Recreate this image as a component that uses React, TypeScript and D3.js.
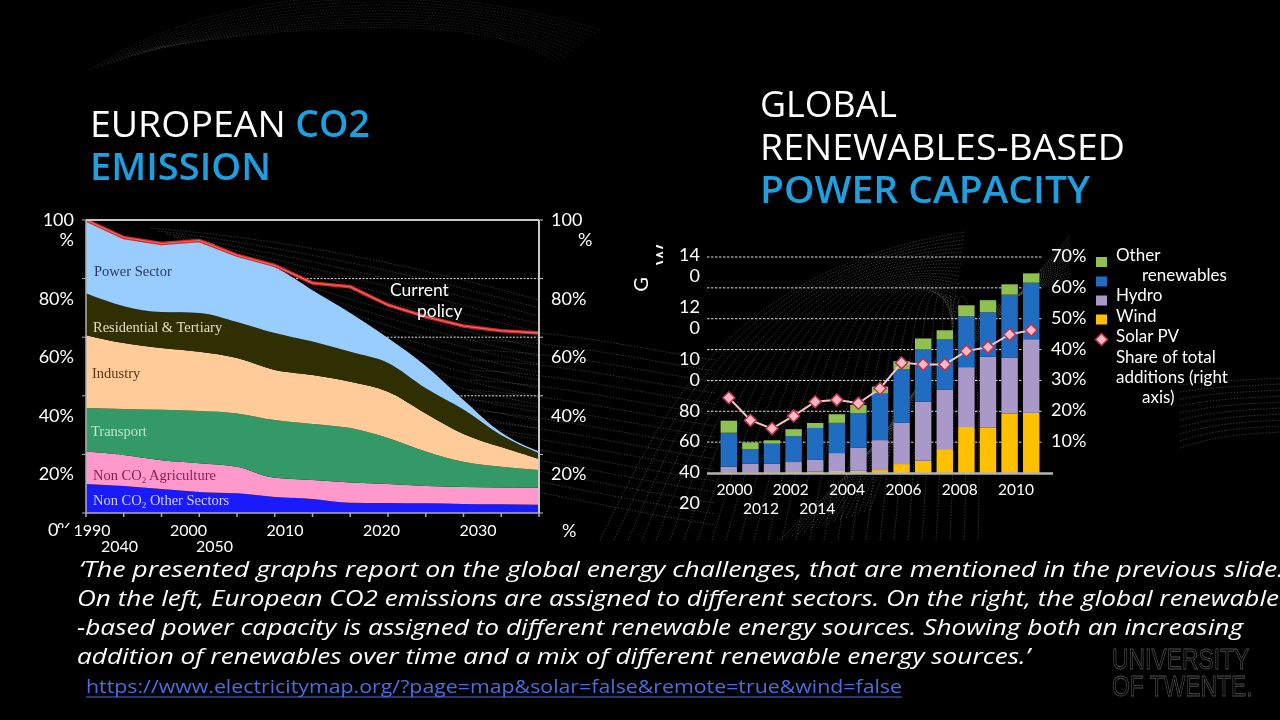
import * as d3 from 'd3';

// ---- left chart: European CO2 emission shares (% of 1990) ----
const sectorYears = [1990, 1995, 2000, 2005, 2010, 2015, 2020, 2025, 2030, 2035, 2040, 2045, 2050];
const powerSector = [25, 23.4, 23.4, 24.7, 22.8, 22.6, 17.5, 13.3, 8.5, 7.6, 3.3, 1.0, 0.6];
const residential = [14.3, 12.6, 12.3, 13.3, 12.3, 12.6, 11.4, 10.2, 9.8, 8.6, 8.3, 4.0, 2.0];
const industry = [24.9, 22.5, 21.1, 20.2, 18.9, 17.1, 16.7, 15.8, 15.8, 13.0, 9.5, 6.7, 3.7];
const transport = [14.8, 15.7, 17.2, 17.8, 18.2, 19.7, 19.1, 18.6, 15.7, 11.8, 8.6, 7.1, 6.1];
const agriculture = [11.1, 10.6, 9.8, 9.8, 9.1, 6.5, 6.5, 6.9, 6.5, 5.9, 5.8, 5.7, 5.8];
const otherSectors = [9.9, 9.2, 8.2, 7.2, 6.7, 5.5, 4.8, 3.5, 3.4, 3.3, 3.1, 3.0, 2.8];
const currentPolicy = [100, 94, 92, 93, 88, 84.5, 78.5, 77.2, 71, 67, 63.8, 62.2, 61.4];
const pctTicks = [100, 80, 60, 40, 20];
const yearLabels = ['1990', '2000', '2010', '2020', '2030', '2040', '2050'];

// ---- right chart: renewables-based capacity additions (GW) ----
const capYears = ['2000', '2001', '2002', '2003', '2004', '2005', '2006', '2007', '2008', '2009', '2010', '2011', '2012', '2013', '2014'];
const solarPV = [0.4, 0.4, 0.5, 0.6, 0.9, 1.3, 1.4, 1.9, 5.8, 8.0, 15.5, 29.8, 29.3, 38.4, 39.0];
const wind = [3.7, 5.6, 5.6, 6.5, 7.8, 11.6, 15.1, 19.4, 26.8, 38.2, 38.4, 38.8, 46.0, 36.2, 47.7];
const hydro = [22.0, 9.5, 12.9, 16.8, 20.5, 19.6, 22.2, 30.2, 34.7, 34.1, 32.8, 33.0, 28.9, 41.0, 36.7];
const otherRenewables = [7.8, 4.3, 2.2, 4.5, 3.2, 5.6, 5.4, 4.5, 5.2, 6.9, 5.8, 7.1, 7.8, 6.7, 6.0];
const shareOfAdditions = [24.4, 17.1, 14.4, 18.5, 23.1, 23.7, 22.6, 27.4, 35.7, 35.2, 35.2, 39.5, 40.8, 44.9, 46.3];
const gwTicks = [140, 120, 100, 80, 60, 40, 20];
const shareTicks = [70, 60, 50, 40, 30, 20, 10];
const capYearLabels = ['2000', '2002', '2004', '2006', '2008', '2010', '2012', '2014'];

const sans = 'Lato, "Open Sans", sans-serif';
const serif = '"Liberation Serif", "DejaVu Serif", serif';
const titleFont = '"Open Sans", sans-serif';

export default function App() {
  // left chart scales
  const xL = d3.scaleLinear().domain([1990, 2050]).range([86, 539]);
  const yL = d3.scaleLinear().domain([0, 100]).range([513, 220]);

  const rows = sectorYears.map((year, i) => ({
    year,
    other: otherSectors[i],
    agri: agriculture[i],
    transport: transport[i],
    industry: industry[i],
    residential: residential[i],
    power: powerSector[i],
  }));
  const sectorKeys = ['other', 'agri', 'transport', 'industry', 'residential', 'power'];
  const sectorColors = {
    other: '#1a1aff',
    agri: '#ff99cc',
    transport: '#339966',
    industry: '#ffcc99',
    residential: '#2f2f02',
    power: '#99ccff',
  };
  const sectorStack = d3.stack().keys(sectorKeys)(rows);
  const sectorArea = d3.area()
    .x((d) => xL(d.data.year))
    .y0((d) => yL(d[0]))
    .y1((d) => yL(d[1]))
    .curve(d3.curveMonotoneX);
  const policyPath = d3.line()
    .x((d, i) => xL(sectorYears[i]))
    .y((d) => yL(d))(currentPolicy);

  // right chart scales
  const xB = d3.scaleBand().domain(capYears).range([718, 1042]).paddingInner(0.24).paddingOuter(0.12);
  const yGW = d3.scaleLinear().domain([0, 140]).range([473, 257]);
  const yPct = d3.scaleLinear().domain([0, 70]).range([473, 257]);
  const capRows = capYears.map((year, i) => ({
    year,
    solar: solarPV[i],
    wind: wind[i],
    hydro: hydro[i],
    other: otherRenewables[i],
  }));
  const capKeys = ['solar', 'wind', 'hydro', 'other'];
  const capColors = { solar: '#ffc000', wind: '#a899c8', hydro: '#1f6cc0', other: '#90c150' };
  const capStack = d3.stack().keys(capKeys)(capRows);
  const shareLine = d3.line()
    .x((d, i) => xB(capYears[i]) + xB.bandwidth() / 2)
    .y((d) => yPct(d))(shareOfAdditions);

  // GW labels wrap in the original text box: 3-digit labels break into two lines
  let gwOffset = 4;
  const gwLabelLines = [];
  gwTicks.forEach((v) => {
    const base = yGW(v) + gwOffset;
    const s = String(v);
    if (s.length > 2) {
      gwLabelLines.push({ t: s.slice(0, 2), y: base });
      gwLabelLines.push({ t: s.slice(2), y: base + 21 });
      gwOffset += 21;
    } else {
      gwLabelLines.push({ t: s, y: base });
    }
  });

  // faint decorative background strokes (slide theme)
  const bgTop = d3.range(12).map((i) => `M${90 + i * 6},${70 - i * 2} C${220 + i * 10},${-15 + i * 3} ${420 + i * 8},${-25 + i * 4} ${600 - i * 4},${30 + i * 3}`);
  const bgRight = d3.range(28).map((i) => `M${600 + i * 14},${540} C${660 + i * 12},${420 - i * 3} ${720 + i * 9},${270 - i * 1.5} ${965 - i * 0.5},${232 + i * 4}`);
  const bgRight2 = d3.range(16).map((i) => `M${780 + i * 6},${540 - i * 2} C${850 + i * 4},${470 - i * 5} ${930},${400 - i * 6} ${1070},${235 + i * 3}`);
  const bgMid = d3.range(16).map((i) => `M${470},${330 + i * 10} C${560},${330 + i * 11} ${620},${345 + i * 11} ${715},${360 + i * 11}`);
  const bgLeft = d3.range(18).map((i) => `M${150 + i * 8},${228 + i * 3} C${300},${240 + i * 8} ${430},${270 + i * 9} ${539},${300 + i * 8}`);
  const bgFar = d3.range(10).map((i) => `M${1180},${385 + i * 7} C${1220},${380 + i * 6} ${1250},${380 + i * 6} ${1280},${378 + i * 6}`);

  const legendItems = [
    { key: 'other', y: 262 },
    { key: 'hydro', y: 281.5 },
    { key: 'wind', y: 300.5 },
    { key: 'solar', y: 319.5 },
  ];
  const legendText = [
    { t: 'Other', x: 1116, y: 261 },
    { t: 'renewables', x: 1142, y: 281 },
    { t: 'Hydro', x: 1116, y: 301 },
    { t: 'Wind', x: 1116, y: 322 },
    { t: 'Solar PV', x: 1116, y: 342 },
    { t: 'Share of total', x: 1116, y: 363 },
    { t: 'additions (right', x: 1116, y: 383 },
    { t: 'axis)', x: 1142, y: 403 },
  ];

  const diamond = 'M0,-6L6,0L0,6L-6,0Z';

  return (
    <svg width={1280} height={720} style={{ position: 'absolute', left: 0, top: 0, background: '#000' }}>
      <defs>
        <clipPath id="clipW"><rect x={600} y={230} width={63} height={60} /></clipPath>
        <clipPath id="clipPct"><rect x={55} y={500} width={20} height={28} /></clipPath>
      </defs>
      <rect width={1280} height={720} fill="#000" />

      {/* background texture */}
      <g fill="none" stroke="#8a8a8a" strokeWidth={0.7} strokeDasharray="1.5,1.5" opacity={0.55}>
        <g opacity={0.6}>{bgTop.map((p, i) => <path key={'t' + i} d={p} />)}</g>
        {bgRight.map((p, i) => <path key={'r' + i} d={p} />)}
        {bgRight2.map((p, i) => <path key={'r2' + i} d={p} />)}
        {bgMid.map((p, i) => <path key={'m' + i} d={p} />)}
        {bgLeft.map((p, i) => <path key={'l' + i} d={p} />)}
        {bgFar.map((p, i) => <path key={'f' + i} d={p} />)}
      </g>

      {/* titles */}
      <text x={90} y={137} fontFamily={titleFont} fontSize={37} fill="#fff" textLength={280} lengthAdjust="spacingAndGlyphs">
        EUROPEAN <tspan fill="#1e9fe0" fontWeight={600}>CO2</tspan>
      </text>
      <text x={90} y={180} fontFamily={titleFont} fontSize={37} fontWeight={600} fill="#1e9fe0" textLength={181} lengthAdjust="spacingAndGlyphs">EMISSION</text>
      <text x={760} y={117} fontFamily={titleFont} fontSize={37} fill="#fff" textLength={137} lengthAdjust="spacingAndGlyphs">GLOBAL</text>
      <text x={760} y={160} fontFamily={titleFont} fontSize={37} fill="#fff" textLength={365} lengthAdjust="spacingAndGlyphs">RENEWABLES-BASED</text>
      <text x={760} y={203} fontFamily={titleFont} fontSize={37} fontWeight={600} fill="#1e9fe0" textLength={330} lengthAdjust="spacingAndGlyphs">POWER CAPACITY</text>

      {/* ---------- left chart ---------- */}
      <g>
        {pctTicks.filter((v) => v < 100).map((v) => (
          <line key={v} x1={86} x2={539} y1={yL(v)} y2={yL(v)} stroke="#d8d8d8" strokeDasharray="2,1.5" strokeWidth={1} />
        ))}
        {sectorStack.map((s) => (
          <path key={s.key} d={sectorArea(s)} fill={sectorColors[s.key]} />
        ))}
        <path d={policyPath} fill="none" stroke="#d42a2a" strokeWidth={3.5} />
        <path d={policyPath} fill="none" stroke="#f46a6a" strokeWidth={1.1} />
        {/* frame */}
        <line x1={86} x2={539} y1={220} y2={220} stroke="#c8c8c8" strokeWidth={2} />
        <line x1={539} x2={539} y1={220} y2={513} stroke="#c8c8c8" strokeWidth={2} />
        <line x1={86} x2={86} y1={220} y2={513} stroke="#b0b0b0" strokeWidth={1.5} />
        <line x1={86} x2={539} y1={513} y2={513} stroke="#b0b0b0" strokeWidth={1.5} />
        {d3.range(1990, 2051, 5).map((yr) => (
          <line key={yr} x1={xL(yr)} x2={xL(yr)} y1={513} y2={517} stroke="#b0b0b0" strokeWidth={1.5} />
        ))}
        {[0, 20, 40, 60, 80, 100].map((v) => (
          <g key={v}>
            <line x1={82} x2={86} y1={yL(v)} y2={yL(v)} stroke="#b0b0b0" />
            <line x1={539} x2={543} y1={yL(v)} y2={yL(v)} stroke="#c8c8c8" />
          </g>
        ))}

        {/* sector labels */}
        <g fontFamily={serif} fontSize={14.5}>
          <text x={94} y={276} fill="#2a3a66">Power Sector</text>
          <text x={93} y={332} fill="#e2dcc0">Residential &amp; Tertiary</text>
          <text x={92} y={378} fill="#5a3412">Industry</text>
          <text x={91} y={436} fill="#bfe3cc">Transport</text>
          <text x={93} y={480} fill="#8a2050">Non CO<tspan fontSize={9} dy={3}>2</tspan><tspan dy={-3}> Agriculture</tspan></text>
          <text x={93} y={505} fill="#d0d0ff">Non CO<tspan fontSize={9} dy={3}>2</tspan><tspan dy={-3}> Other Sectors</tspan></text>
        </g>
        <text x={390} y={296} fontFamily={sans} fontSize={17.5} fill="#fff">Current</text>
        <text x={417} y={317} fontFamily={sans} fontSize={17.5} fill="#fff">policy</text>

        {/* left axis labels */}
        <g fontFamily={sans} fontSize={18} fill="#fff">
          {pctTicks.map((v) => v === 100 ? (
            <g key={v}>
              <text x={74} y={yL(v) + 6} textAnchor="end">100</text>
              <text x={74} y={yL(v) + 26} textAnchor="end">%</text>
            </g>
          ) : (
            <text key={v} x={74} y={yL(v) + 26} textAnchor="end">{v}%</text>
          ))}
          <text x={48} y={536}>0</text>
          <text x={57} y={536} clipPath="url(#clipPct)">%</text>
          {/* right axis labels */}
          {pctTicks.map((v) => v === 100 ? (
            <g key={'r' + v}>
              <text x={551} y={yL(v) + 6}>100</text>
              <text x={578} y={yL(v) + 26}>%</text>
            </g>
          ) : (
            <text key={'r' + v} x={551} y={yL(v) + 26}>{v}%</text>
          ))}
          <text x={562} y={537}>%</text>
        </g>
        <g fontFamily={sans} fontSize={16} fill="#fff" textAnchor="middle">
          {yearLabels.map((t, i) => (
            <text key={t} x={i < 5 ? 92 + i * 96.5 : 119.5 + (i - 5) * 95} y={i < 5 ? 536 : 551.5}>{t}</text>
          ))}
        </g>
      </g>

      {/* ---------- right chart ---------- */}
      <g>
        {shareTicks.map((v) => (
          <line key={v} x1={707} x2={1043} y1={yPct(v)} y2={yPct(v)} stroke="#f0f0f0" strokeDasharray="2.5,1.5" strokeWidth={1} opacity={0.9} />
        ))}
        {capStack.map((s) => (
          <g key={s.key} fill={capColors[s.key]}>
            {s.map((d) => (
              <rect key={d.data.year} x={xB(d.data.year)} width={xB.bandwidth()} y={yGW(d[1])} height={yGW(d[0]) - yGW(d[1])} />
            ))}
          </g>
        ))}
        <line x1={707} x2={1053} y1={473.5} y2={473.5} stroke="#b4b4b4" strokeWidth={2.5} />
        <path d={shareLine} fill="none" stroke="#f4c4ca" strokeWidth={2} />
        {shareOfAdditions.map((v, i) => (
          <path key={i} d={diamond} transform={`translate(${xB(capYears[i]) + xB.bandwidth() / 2},${yPct(v)})`} fill="#f8b9c3" stroke="#b8344f" strokeWidth={1.5} />
        ))}

        <g fontFamily={sans} fontSize={18} fill="#fff">
          {gwLabelLines.map((l, i) => (
            <text key={i} x={700} y={l.y} textAnchor="end">{l.t}</text>
          ))}
          {shareTicks.map((v) => (
            <text key={v} x={1051} y={yPct(v) + 5}>{v}%</text>
          ))}
        </g>
        <g fontFamily={sans} fontSize={15.5} fill="#fff" textAnchor="middle">
          {capYearLabels.map((t, i) => (
            <text key={t} x={i < 6 ? 734.5 + i * 56.3 : 761 + (i - 6) * 56.3} y={i < 6 ? 495 : 514}>{t}</text>
          ))}
        </g>
        <g fontFamily={sans} fontSize={20} fill="#fff">
          <text transform="translate(648,284.5) rotate(-90)" textAnchor="middle">G</text>
          <g clipPath="url(#clipW)">
            <text transform="translate(670,255) rotate(-90)" textAnchor="middle">W</text>
          </g>
        </g>

        {/* legend */}
        {legendItems.map((l) => (
          <rect key={l.key} x={1096} y={l.y - 5} width={11} height={10} fill={capColors[l.key]} />
        ))}
        <path d={diamond} transform="translate(1101.5,339.5)" fill="#f8b9c3" stroke="#b8344f" strokeWidth={1.5} />
        <g fontFamily={sans} fontSize={17} fill="#fff">
          {legendText.map((l) => (
            <text key={l.t} x={l.x} y={l.y}>{l.t}</text>
          ))}
        </g>
      </g>

      {/* caption */}
      <g fontFamily={titleFont} fontStyle="italic" fontSize={22} fill="#fff">
        <text x={79} y={577} textLength={1205} lengthAdjust="spacingAndGlyphs">‘The presented graphs report on the global energy challenges, that are mentioned in the previous slide.</text>
        <text x={77} y={606} textLength={1202} lengthAdjust="spacingAndGlyphs">On the left, European CO2 emissions are assigned to different sectors. On the right, the global renewable</text>
        <text x={77} y={635} textLength={1166} lengthAdjust="spacingAndGlyphs">-based power capacity is assigned to different renewable energy sources. Showing both an increasing</text>
        <text x={77} y={664} textLength={953} lengthAdjust="spacingAndGlyphs">addition of renewables over time and a mix of different renewable energy sources.’</text>
      </g>
      <text x={86} y={693} fontFamily={titleFont} fontSize={19} fill="#4a6ee0" textLength={816} lengthAdjust="spacingAndGlyphs">https://www.electricitymap.org/?page=map&amp;solar=false&amp;remote=true&amp;wind=false</text>
      <line x1={86} x2={902} y1={697} y2={697} stroke="#4a6ee0" strokeWidth={1.2} />

      {/* university logo (one text, two lines) */}
      <text transform="translate(1112,0) scale(0.88,1.16)" fontFamily='"Liberation Sans", sans-serif' fontSize={26} fill="none" stroke="#505050" strokeWidth={0.7}>
        <tspan x={0} y={576.7}>UNIVERSITY</tspan>
        <tspan x={0} y={599.6}>OF TWENTE.</tspan>
      </text>
    </svg>
  );
}
